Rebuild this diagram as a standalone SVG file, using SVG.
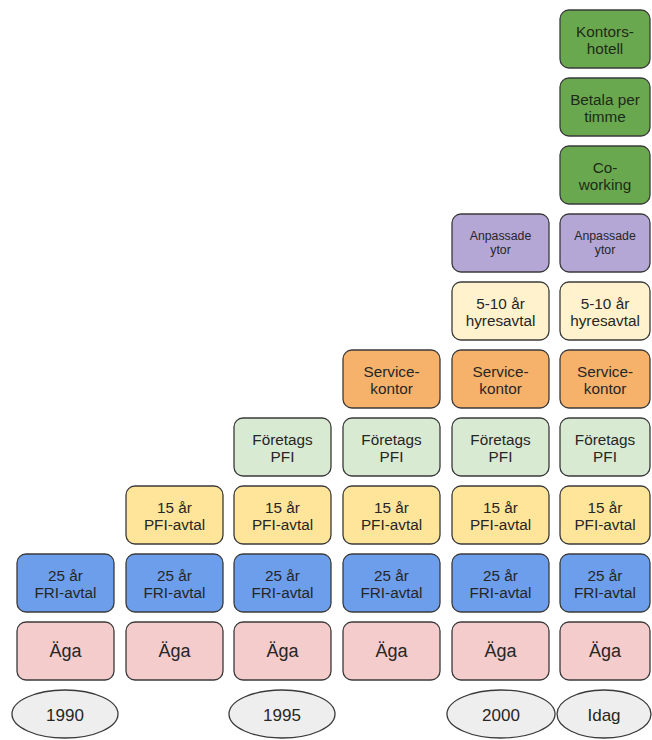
<svg xmlns="http://www.w3.org/2000/svg" width="652" height="740" viewBox="0 0 652 740">
<style>
.n rect{stroke:#3a3a3a;stroke-width:1.3}
ellipse{fill:#eeeeee;stroke:#3a3a3a;stroke-width:1.3}
text{font-family:"Liberation Sans",Arial,sans-serif;fill:#262626;text-anchor:middle}
.t{font-size:15.3px}
.s{font-size:12.3px}
.b{font-size:18px}
.y{font-size:17px}
.aga{fill:#f4cccc}
.fri{fill:#6d9eeb}
.pfi{fill:#ffe599}
.ftg{fill:#d9ead3}
.svc{fill:#f6b26b}
.hyr{fill:#fff2cc}
.anp{fill:#b4a7d6}
.grn{fill:#6aa84f}
.g text{fill:#1e2a18}
</style>
<rect x="0" y="0" width="652" height="740" fill="#ffffff"/>
<g id="col1" class="n">
<g id="aga1"><rect class="aga" x="17" y="622" width="97" height="58" rx="9"/><text class="b" x="65.5" y="657">Äga</text></g>
<g id="fri1"><rect class="fri" x="17" y="554" width="97" height="58" rx="9"/><text class="t" x="65.5" y="580.5">25 år</text><text class="t" x="65.5" y="597.5">FRI-avtal</text></g>
</g>
<g id="col2" class="n">
<g id="aga2"><rect class="aga" x="126" y="622" width="97" height="58" rx="9"/><text class="b" x="174.5" y="657">Äga</text></g>
<g id="fri2"><rect class="fri" x="126" y="554" width="97" height="58" rx="9"/><text class="t" x="174.5" y="580.5">25 år</text><text class="t" x="174.5" y="597.5">FRI-avtal</text></g>
<g id="pfi2"><rect class="pfi" x="126" y="486" width="97" height="58" rx="9"/><text class="t" x="174.5" y="512.5">15 år</text><text class="t" x="174.5" y="529.5">PFI-avtal</text></g>
</g>
<g id="col3" class="n">
<g id="aga3"><rect class="aga" x="234" y="622" width="97" height="58" rx="9"/><text class="b" x="282.5" y="657">Äga</text></g>
<g id="fri3"><rect class="fri" x="234" y="554" width="97" height="58" rx="9"/><text class="t" x="282.5" y="580.5">25 år</text><text class="t" x="282.5" y="597.5">FRI-avtal</text></g>
<g id="pfi3"><rect class="pfi" x="234" y="486" width="97" height="58" rx="9"/><text class="t" x="282.5" y="512.5">15 år</text><text class="t" x="282.5" y="529.5">PFI-avtal</text></g>
<g id="ftg3"><rect class="ftg" x="234" y="418" width="97" height="58" rx="9"/><text class="t" x="282.5" y="444.5">Företags</text><text class="t" x="282.5" y="461.5">PFI</text></g>
</g>
<g id="col4" class="n">
<g id="aga4"><rect class="aga" x="343" y="622" width="97" height="58" rx="9"/><text class="b" x="391.5" y="657">Äga</text></g>
<g id="fri4"><rect class="fri" x="343" y="554" width="97" height="58" rx="9"/><text class="t" x="391.5" y="580.5">25 år</text><text class="t" x="391.5" y="597.5">FRI-avtal</text></g>
<g id="pfi4"><rect class="pfi" x="343" y="486" width="97" height="58" rx="9"/><text class="t" x="391.5" y="512.5">15 år</text><text class="t" x="391.5" y="529.5">PFI-avtal</text></g>
<g id="ftg4"><rect class="ftg" x="343" y="418" width="97" height="58" rx="9"/><text class="t" x="391.5" y="444.5">Företags</text><text class="t" x="391.5" y="461.5">PFI</text></g>
<g id="svc4"><rect class="svc" x="343" y="350" width="97" height="58" rx="9"/><text class="t" x="391.5" y="376.5">Service-</text><text class="t" x="391.5" y="393.5">kontor</text></g>
</g>
<g id="col5" class="n">
<g id="aga5"><rect class="aga" x="452" y="622" width="97" height="58" rx="9"/><text class="b" x="500.5" y="657">Äga</text></g>
<g id="fri5"><rect class="fri" x="452" y="554" width="97" height="58" rx="9"/><text class="t" x="500.5" y="580.5">25 år</text><text class="t" x="500.5" y="597.5">FRI-avtal</text></g>
<g id="pfi5"><rect class="pfi" x="452" y="486" width="97" height="58" rx="9"/><text class="t" x="500.5" y="512.5">15 år</text><text class="t" x="500.5" y="529.5">PFI-avtal</text></g>
<g id="ftg5"><rect class="ftg" x="452" y="418" width="97" height="58" rx="9"/><text class="t" x="500.5" y="444.5">Företags</text><text class="t" x="500.5" y="461.5">PFI</text></g>
<g id="svc5"><rect class="svc" x="452" y="350" width="97" height="58" rx="9"/><text class="t" x="500.5" y="376.5">Service-</text><text class="t" x="500.5" y="393.5">kontor</text></g>
<g id="hyr5"><rect class="hyr" x="452" y="282" width="97" height="58" rx="9"/><text class="t" x="500.5" y="308.5">5-10 år</text><text class="t" x="500.5" y="325.5">hyresavtal</text></g>
<g id="anp5"><rect class="anp" x="452" y="214" width="97" height="58" rx="9"/><text class="s" x="500.5" y="240">Anpassade</text><text class="s" x="500.5" y="254">ytor</text></g>
</g>
<g id="col6" class="n">
<g id="aga6"><rect class="aga" x="560" y="622" width="90" height="58" rx="9"/><text class="b" x="605" y="657">Äga</text></g>
<g id="fri6"><rect class="fri" x="560" y="554" width="90" height="58" rx="9"/><text class="t" x="605" y="580.5">25 år</text><text class="t" x="605" y="597.5">FRI-avtal</text></g>
<g id="pfi6"><rect class="pfi" x="560" y="486" width="90" height="58" rx="9"/><text class="t" x="605" y="512.5">15 år</text><text class="t" x="605" y="529.5">PFI-avtal</text></g>
<g id="ftg6"><rect class="ftg" x="560" y="418" width="90" height="58" rx="9"/><text class="t" x="605" y="444.5">Företags</text><text class="t" x="605" y="461.5">PFI</text></g>
<g id="svc6"><rect class="svc" x="560" y="350" width="90" height="58" rx="9"/><text class="t" x="605" y="376.5">Service-</text><text class="t" x="605" y="393.5">kontor</text></g>
<g id="hyr6"><rect class="hyr" x="560" y="282" width="90" height="58" rx="9"/><text class="t" x="605" y="308.5">5-10 år</text><text class="t" x="605" y="325.5">hyresavtal</text></g>
<g id="anp6"><rect class="anp" x="560" y="214" width="90" height="58" rx="9"/><text class="s" x="605" y="240">Anpassade</text><text class="s" x="605" y="254">ytor</text></g>
<g id="cow6" class="g"><rect class="grn" x="560" y="146" width="90" height="58" rx="9"/><text class="t" x="605" y="172.5">Co-</text><text class="t" x="605" y="189.5">working</text></g>
<g id="bet6" class="g"><rect class="grn" x="560" y="78" width="90" height="58" rx="9"/><text class="t" x="605" y="104.5">Betala per</text><text class="t" x="605" y="121.5">timme</text></g>
<g id="kon6" class="g"><rect class="grn" x="560" y="10" width="90" height="58" rx="9"/><text class="t" x="605" y="36.5">Kontors-</text><text class="t" x="605" y="53.5">hotell</text></g>
</g>
<g id="years">
<g id="y1990"><ellipse cx="65" cy="714" rx="53" ry="24"/><text class="y" x="65" y="721">1990</text></g>
<g id="y1995"><ellipse cx="282" cy="714" rx="53" ry="24"/><text class="y" x="282" y="721">1995</text></g>
<g id="y2000"><ellipse cx="501" cy="714" rx="54" ry="24"/><text class="y" x="501" y="721">2000</text></g>
<g id="yidag"><ellipse cx="604" cy="714" rx="47" ry="24"/><text class="y" x="604" y="721">Idag</text></g>
</g>
<g id="connectors"/>
</svg>
